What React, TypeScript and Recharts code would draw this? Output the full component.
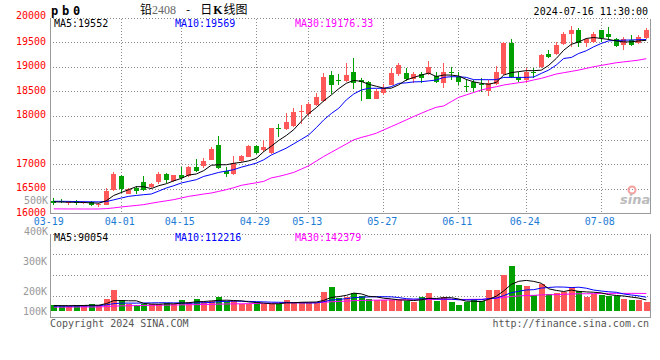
import { ComposedChart, Bar, Line, XAxis, YAxis, CartesianGrid } from 'recharts';

// daily candles for pb0 (lead 2408), 03-19 .. 07-16
const dates = [
  '03-19', '03-20', '03-21', '03-22', '03-25', '03-26', '03-27', '03-28', '03-29',
  '04-01', '04-02', '04-03', '04-08', '04-09', '04-10', '04-11', '04-12',
  '04-15', '04-16', '04-17', '04-18', '04-19', '04-22', '04-23', '04-24', '04-25', '04-26',
  '04-29', '04-30', '05-06', '05-07', '05-08', '05-09', '05-10',
  '05-13', '05-14', '05-15', '05-16', '05-17', '05-20', '05-21', '05-22', '05-23', '05-24',
  '05-27', '05-28', '05-29', '05-30', '05-31', '06-03', '06-04', '06-05', '06-06', '06-07',
  '06-11', '06-12', '06-13', '06-14', '06-17', '06-18', '06-19', '06-20', '06-21',
  '06-24', '06-25', '06-26', '06-27', '06-28', '07-01', '07-02', '07-03', '07-04', '07-05',
  '07-08', '07-09', '07-10', '07-11', '07-12', '07-15', '07-16',
];

const openP = [
  16260, 16250, 16210, 16250, 16210, 16230, 16170, 16180, 16480, 16760,
  16410, 16530, 16640, 16540, 16640, 16810, 16670, 16790, 16760, 16960,
  16970, 17100, 17400, 16880, 16800, 17070, 17160, 17390, 17300, 17240,
  17760, 17740, 17790, 18080, 18040, 18230, 18300, 18840, 18730, 18710,
  18910, 18740, 18700, 18350, 18480, 18640, 18860, 18890, 18750, 18860,
  18860, 18830, 18670, 18895, 18810, 18620, 18700, 18660, 18520, 18660,
  18870, 19500, 18810, 18740, 18900, 19000, 19270, 19270, 19470, 19680,
  19760, 19500, 19520, 19760, 19690, 19570, 19450, 19560, 19490, 19590,
];
const highP = [
  16310, 16290, 16260, 16280, 16250, 16250, 16220, 16520, 16860, 16780,
  16530, 16570, 16760, 16630, 16850, 16840, 16800, 16960, 16980, 17110,
  17130, 17360, 17580, 16960, 17170, 17200, 17400, 17400, 17500, 17760,
  17840, 18060, 18160, 18230, 18290, 18470, 18890, 18930, 18860, 19080,
  19190, 18780, 18720, 18560, 18650, 18980, 19090, 18990, 18900, 18910,
  19120, 18900, 19080, 19010, 18910, 18750, 18740, 18770, 18740, 19020,
  19520, 19570, 18910, 18980, 18980, 19280, 19350, 19520, 19730, 19840,
  19800, 19590, 19730, 19770, 19830, 19590, 19620, 19660, 19660, 19800,
];
const lowP = [
  16180, 16210, 16180, 16180, 16190, 16160, 16130, 16170, 16470, 16420,
  16390, 16410, 16460, 16520, 16610, 16620, 16650, 16690, 16740, 16860,
  16940, 17090, 16920, 16750, 16780, 17050, 17150, 17220, 17260, 17230,
  17570, 17720, 17770, 17840, 17990, 18200, 18290, 18450, 18640, 18690,
  18550, 18300, 18340, 18340, 18430, 18630, 18820, 18720, 18680, 18680,
  18840, 18680, 18570, 18740, 18640, 18500, 18500, 18500, 18410, 18640,
  18840, 18770, 18700, 18670, 18770, 18980, 19180, 19250, 19450, 19420,
  19410, 19420, 19490, 19520, 19560, 19420, 19350, 19430, 19470, 19570,
];
const closeP = [
  16210, 16230, 16240, 16210, 16230, 16170, 16200, 16470, 16810, 16500,
  16500, 16460, 16480, 16610, 16810, 16680, 16780, 16730, 16960, 16880,
  17080, 17320, 16940, 16820, 17030, 17180, 17380, 17240, 17370, 17750,
  17740, 17880, 18080, 18100, 18250, 18380, 18790, 18640, 18710, 18840,
  18670, 18690, 18350, 18520, 18570, 18890, 19040, 18760, 18870, 18770,
  19010, 18700, 18910, 18880, 18700, 18610, 18580, 18650, 18680, 18900,
  19500, 18810, 18740, 18900, 18890, 19250, 19200, 19450, 19680, 19760,
  19500, 19570, 19680, 19590, 19620, 19430, 19570, 19450, 19620, 19760,
];

// moving averages as drawn on the price panel
const ma5 = [
  16240, 16235, 16232, 16230, 16226, 16218, 16212, 16260, 16370, 16430,
  16490, 16550, 16550, 16510, 16570, 16610, 16670, 16720, 16790, 16810,
  16880, 16990, 17000, 17000, 17030, 17050, 17080, 17130, 17270, 17380,
  17500, 17600, 17720, 17890, 18050, 18170, 18310, 18430, 18560, 18670,
  18730, 18710, 18650, 18610, 18570, 18570, 18640, 18740, 18790, 18840,
  18880, 18810, 18840, 18840, 18820, 18750, 18700, 18670, 18650, 18690,
  18840, 18890, 18910, 18930, 18930, 18940, 19040, 19180, 19350, 19470,
  19520, 19590, 19610, 19590, 19570, 19540, 19520, 19520, 19540, 19552,
];
const ma10 = [
  16250, 16250, 16248, 16245, 16242, 16240, 16238, 16245, 16280, 16318,
  16352, 16370, 16386, 16400, 16460, 16523, 16570, 16625, 16660, 16693,
  16761, 16800, 16843, 16870, 16900, 16950, 16990, 17034, 17102, 17200,
  17270, 17340, 17430, 17520, 17613, 17760, 17920, 18050, 18159, 18329,
  18452, 18533, 18568, 18568, 18568, 18602, 18670, 18680, 18700, 18704,
  18720, 18738, 18792, 18806, 18806, 18792, 18745, 18745, 18745, 18745,
  18792, 18792, 18792, 18792, 18800, 18874, 18942, 19045, 19181, 19200,
  19283, 19338, 19420, 19488, 19542, 19550, 19555, 19560, 19565, 19569,
];
const ma30 = [
  16095, 16094, 16093, 16093, 16092, 16092, 16093, 16100, 16115, 16134,
  16150, 16165, 16182, 16210, 16236, 16260, 16284, 16318, 16352, 16375,
  16400, 16420, 16454, 16488, 16530, 16577, 16605, 16630, 16659, 16730,
  16761, 16800, 16843, 16910, 16979, 17075, 17170, 17255, 17340, 17425,
  17511, 17560, 17600, 17647, 17715, 17783, 17850, 17920, 17990, 18056,
  18120, 18179, 18206, 18295, 18383, 18433, 18483, 18533, 18570, 18600,
  18636, 18660, 18683, 18704, 18740, 18772, 18816, 18861, 18888, 18915,
  18942, 18977, 19011, 19038, 19065, 19092, 19110, 19128, 19147, 19176,
];

// volume in thousands of lots
const volume = [
  48.6, 40.5, 40.5, 48.6, 48.6, 56.7, 48.6, 97.2, 170.1, 89.1,
  56.7, 48.6, 56.7, 56.7, 56.7, 62.1, 56.7, 89.1, 70.2, 97.2,
  70.2, 81.0, 113.4, 81.0, 81.0, 56.7, 56.7, 70.2, 56.7, 56.7,
  56.7, 89.1, 75.6, 75.6, 62.1, 62.1, 153.9, 197.1, 108.0, 116.1,
  148.5, 124.2, 97.2, 89.1, 89.1, 89.1, 89.1, 83.7, 75.6, 116.1,
  148.5, 83.7, 116.1, 75.6, 48.6, 75.6, 97.2, 83.7, 170.1, 170.1,
  291.6, 364.5, 210.6, 202.5, 129.6, 216.0, 137.7, 148.5, 156.6, 191.7,
  162.0, 116.1, 135.0, 129.6, 124.2, 124.2, 97.2, 89.1, 89.1, 75.6,
];
const volMa5 = [
  44, 44, 43, 44, 45, 47, 47, 60, 84, 85,
  83, 83, 62, 56, 55, 58, 58, 64, 67, 75,
  77, 82, 86, 88, 85, 83, 74, 69, 64, 59,
  59, 66, 67, 71, 72, 73, 86, 110, 117, 127,
  145, 139, 119, 115, 104, 98, 91, 88, 85, 91,
  103, 102, 108, 108, 97, 80, 79, 76, 95, 120,
  163, 216, 241, 248, 240, 225, 180, 167, 158, 170,
  159, 155, 152, 147, 133, 126, 122, 113, 105, 90,
];
const volMa10 = [
  40, 40, 40, 41, 41, 42, 43, 50, 60, 64,
  64, 64, 65, 66, 67, 67, 66, 66, 62, 66,
  67, 70, 76, 78, 80, 79, 78, 76, 74, 72,
  71, 70, 67, 66, 65, 66, 76, 89, 94, 100,
  108, 112, 114, 116, 116, 115, 109, 100, 97, 98,
  101, 97, 97, 96, 91, 91, 91, 92, 101, 105,
  125, 148, 160, 171, 173, 186, 191, 195, 194, 190,
  193, 185, 170, 162, 156, 152, 138, 130, 123, 112,
];
const volMa30 = [
  32, 32, 32, 33, 33, 33, 33, 36, 40, 42,
  43, 44, 45, 46, 47, 48, 49, 50, 51, 52,
  53, 54, 56, 57, 58, 59, 60, 61, 62, 63,
  64, 66, 67, 68, 68, 68, 71, 75, 78, 80,
  84, 86, 87, 88, 89, 90, 91, 91, 91, 92,
  94, 94, 95, 95, 94, 94, 95, 95, 99, 103,
  110, 118, 122, 126, 127, 131, 132, 133, 135, 138,
  140, 140, 141, 142, 143, 143, 143, 143, 143, 142,
];

const dateTicks = ['03-19', '04-01', '04-15', '04-29', '05-13', '05-27', '06-11', '06-24', '07-08'];
const priceTicks = [16000, 16500, 17000, 17500, 18000, 18500, 19000, 19500, 20000];
const priceLabelSkip = [17500];
const volDomain = [-54, 624];
const volGrid = [115.5, 285, 454.5, 624];
const volTickValues = [0, 162, 405];
const volTickLabels = ['100K', '200K', '300K'];

const RED = '#ff5858';
const GREEN = '#00a000';
const FRAME = '#999999';
const GRID = '#8a8a8a';
const MONO = '"DejaVu Sans Mono", monospace';

const rows = dates.map((date, i) => ({
  date,
  open: openP[i],
  high: highP[i],
  low: lowP[i],
  close: closeP[i],
  ma5: ma5[i],
  ma10: ma10[i],
  ma30: ma30[i],
  vol: volume[i],
  vma5: volMa5[i],
  vma10: volMa10[i],
  vma30: volMa30[i],
}));

const Candle = (props: any) => {
  const { x, y, width, height, payload } = props;
  const top = Math.min(y, y + height);
  const h = Math.abs(height);
  const { open, close, high, low } = payload;
  const yOf = (v: number) => (high === low ? top : top + ((high - v) / (high - low)) * h);
  const color = close >= open ? RED : GREEN;
  const cx = Math.floor(x + width / 2);
  const bTop = Math.round(yOf(Math.max(open, close)));
  const bBot = Math.round(yOf(Math.min(open, close)));
  return (
    <g shapeRendering="crispEdges">
      <line x1={cx + 0.5} x2={cx + 0.5} y1={Math.round(top)} y2={Math.round(top + h)} stroke={color} />
      <rect x={cx - 2} y={bTop} width={5} height={Math.max(1, bBot - bTop)} fill={color} />
    </g>
  );
};

const VolBar = (props: any) => {
  const { x, y, width, height, payload } = props;
  const top = Math.round(Math.min(y, y + height));
  const bot = Math.round(Math.max(y, y + height));
  const cx = Math.floor(x + width / 2);
  const color = payload.close >= payload.open ? RED : GREEN;
  return <rect x={cx - 2} y={top} width={6} height={Math.max(1, bot - top)} fill={color} shapeRendering="crispEdges" />;
};

// grid lines snapped to pixel centres so the 1px dots stay crisp
const HGrid = (props: any) => {
  const { x1, x2, y1, index } = props;
  const y = Math.round(y1 - 0.5) + 0.5;
  return (
    <line key={'h' + index} x1={x1} x2={x2} y1={y} y2={y} stroke={GRID} strokeWidth={1}
      strokeDasharray="1 2" shapeRendering="crispEdges" fill="none" />
  );
};
const VGrid = (props: any) => {
  const { x1, y1, y2, index } = props;
  const x = Math.floor(x1) + 0.5;
  return (
    <line key={'v' + index} x1={x} x2={x} y1={y1} y2={y2} stroke={GRID} strokeWidth={1}
      strokeDasharray="1 2" shapeRendering="crispEdges" fill="none" />
  );
};

const DateTick = (props: any) => {
  const { x, y, payload } = props;
  const shift = payload.value === dateTicks[0] ? -5 : -1.5;
  return (
    <text x={x + shift} y={y + 11.5} textAnchor="middle" fill="#1c7cd5" fontFamily={MONO} fontSize={10}>
      {payload.value}
    </text>
  );
};

const PriceTick = (props: any) => {
  const { x, y, payload } = props;
  if (priceLabelSkip.includes(payload.value)) return <g />;
  const dy = payload.value === priceTicks[priceTicks.length - 1] ? 0.5 : 2;
  return (
    <text x={x} y={y + dy} textAnchor="end" fill="#ff0000" fontFamily={MONO} fontSize={10}>
      {payload.value}
    </text>
  );
};

const VolTick = (props: any) => {
  const { x, y, payload } = props;
  const label = volTickLabels[volTickValues.indexOf(payload.value)];
  return (
    <text x={x} y={y + 3.5} textAnchor="end" fill="#999999" fontFamily={MONO} fontSize={10}>
      {label}
    </text>
  );
};

const lineProps = { type: 'linear', strokeWidth: 1, dot: false, isAnimationActive: false, activeDot: false } as any;
const frameLine = { stroke: FRAME, shapeRendering: 'crispEdges' };

const App = () => {
  return (
    <div style={{ position: 'absolute', left: 0, top: 0, width: 660, height: 360, background: '#fff' }}>
      <div style={{ position: 'absolute', left: 0, top: 0 }}>
        <ComposedChart width={660} height={232} data={rows} margin={{ top: 18.5, right: 9, bottom: 0.5, left: 0 }}>
          <CartesianGrid
            stroke={GRID}
            horizontal={HGrid}
            vertical={VGrid}
            horizontalValues={priceTicks.slice(1)}
            verticalValues={dateTicks.slice(1)}
          />
          <XAxis
            dataKey="date"
            ticks={dateTicks}
            interval={0}
            tick={<DateTick />}
            tickLine={false}
            tickSize={0}
            tickMargin={0}
            height={18}
            axisLine={frameLine}
          />
          <YAxis
            domain={[16000, 20000]}
            ticks={priceTicks}
            interval={0}
            allowDataOverflow
            tick={<PriceTick />}
            tickLine={false}
            tickSize={0}
            tickMargin={4}
            width={50}
            axisLine={frameLine}
          />
          <YAxis yAxisId="r" orientation="right" width={1} domain={[16000, 20000]} allowDataOverflow tick={false} tickLine={false} axisLine={frameLine} />
          <Bar dataKey={(d: any) => [d.low, d.high]} shape={<Candle />} isAnimationActive={false} />
          <Line dataKey="ma30" stroke="#ff00ff" {...lineProps} />
          <Line dataKey="ma10" stroke="#0000ff" {...lineProps} />
          <Line dataKey="ma5" stroke="#000000" {...lineProps} />
        </ComposedChart>
      </div>

      <div style={{ position: 'absolute', left: 0, top: 226 }}>
        <ComposedChart width={660} height={100} data={rows} margin={{ top: 8, right: 9, bottom: 7.3, left: 0 }}>
          <CartesianGrid
            stroke={GRID}
            horizontal={HGrid}
            vertical={VGrid}
            horizontalValues={volGrid}
            verticalValues={dateTicks.slice(1)}
          />
          <XAxis dataKey="date" height={1} tick={false} tickLine={false} axisLine={frameLine} />
          <YAxis
            domain={volDomain}
            ticks={volTickValues}
            interval={0}
            allowDataOverflow
            tick={<VolTick />}
            tickLine={false}
            tickSize={0}
            tickMargin={3}
            width={50}
            axisLine={frameLine}
          />
          <YAxis yAxisId="r" orientation="right" width={1} domain={volDomain} allowDataOverflow tick={false} tickLine={false} axisLine={frameLine} />
          <Bar dataKey="vol" shape={<VolBar />} isAnimationActive={false} />
          <Line dataKey="vma30" stroke="#ff00ff" {...lineProps} />
          <Line dataKey="vma10" stroke="#0000ff" {...lineProps} />
          <Line dataKey="vma5" stroke="#000000" {...lineProps} />
        </ComposedChart>
      </div>

      {/* header, legends and footer */}
      <svg width={660} height={360} style={{ position: 'absolute', left: 0, top: 0, pointerEvents: 'none' }}>
        <text x={51} y={15} fontFamily={MONO} fontWeight="bold" fontSize={12} letterSpacing={3.8} fill="#000">pb0</text>
        <text x={140} y={13.5} fontSize={12} fill="#000" fontFamily='"Noto Sans CJK SC", sans-serif'>
          铅
          <tspan fontFamily='"Liberation Serif", serif' fill="#666" fontSize={12}>2408</tspan>
          <tspan dx={10}>-</tspan>
          <tspan dx={10}>日</tspan>
          <tspan dx={1} fontFamily='"Liberation Serif", serif' fontWeight="bold">K</tspan>
          <tspan dx={1}>线图</tspan>
        </text>
        <text x={648} y={15} textAnchor="end" fontFamily={MONO} fontSize={10} fill="#000">2024-07-16 11:30:00</text>

        <text x={54} y={27} fontFamily={MONO} fontSize={10} fill="#000">MA5:19552</text>
        <text x={175} y={27} fontFamily={MONO} fontSize={10} fill="#0000ff">MA10:19569</text>
        <text x={295} y={27} fontFamily={MONO} fontSize={10} fill="#ff00ff">MA30:19176.33</text>

        <text x={48} y={203.5} textAnchor="end" fontFamily={MONO} fontSize={10} fill="#999">500K</text>
        <text x={48} y={234.5} textAnchor="end" fontFamily={MONO} fontSize={10} fill="#999">400K</text>

        <text x={54} y={241} fontFamily={MONO} fontSize={10} fill="#000">MA5:90054</text>
        <text x={175} y={241} fontFamily={MONO} fontSize={10} fill="#0000ff">MA10:112216</text>
        <text x={295} y={241} fontFamily={MONO} fontSize={10} fill="#ff00ff">MA30:142379</text>

        <circle cx={632} cy={190} r={3.5} fill="none" stroke="#f4a0a0" strokeWidth={2} />
        <text x={620} y={204} fontFamily='"DejaVu Sans", sans-serif' fontStyle="italic" fontWeight="bold" fontSize={13} fill="#bbbbbb">sina</text>

        <text x={50} y={327} fontFamily={MONO} fontSize={10} fill="#555">Copyright 2024 SINA.COM</text>
        <text x={649} y={327} textAnchor="end" fontFamily={MONO} fontSize={10} fill="#555">http://finance.sina.com.cn</text>
      </svg>
    </div>
  );
};

export default App;
